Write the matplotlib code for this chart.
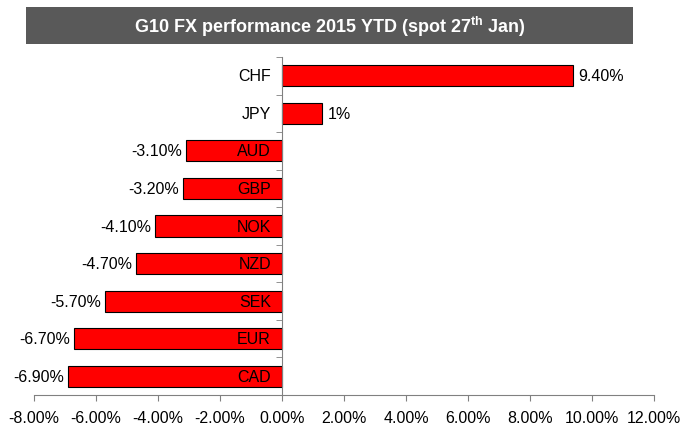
import matplotlib.pyplot as plt
from matplotlib.patches import Rectangle
import numpy as np

plt.rcParams['font.family'] = ['Liberation Sans', 'DejaVu Sans']
plt.rcParams['mathtext.fontset'] = 'custom'
plt.rcParams['mathtext.bf'] = 'Liberation Sans:bold'
plt.rcParams['mathtext.rm'] = 'Liberation Sans'

currencies = ["CHF", "JPY", "AUD", "GBP", "NOK", "NZD", "SEK", "EUR", "CAD"]
values = [9.4, 1.3, -3.1, -3.2, -4.1, -4.7, -5.7, -6.7, -6.9]
value_labels = ["9.40%", "1%", "-3.10%", "-3.20%", "-4.10%", "-4.70%", "-5.70%", "-6.70%", "-6.90%"]
xticks = [-8, -6, -4, -2, 0, 2, 4, 6, 8, 10, 12]

W, H = 686, 427
fs = 11.5
fig = plt.figure(figsize=(W / 100, H / 100), dpi=100)
ax = fig.add_axes([34 / W, 1 - 396 / H, 620 / W, 338 / H])

ypos = np.arange(len(currencies))[::-1]
ax.barh(ypos, values, height=0.56, color='#FF0000', edgecolor='black', linewidth=0.8, zorder=2)

ax.set_xlim(-8, 12)
ax.set_ylim(-0.5, len(currencies) - 0.5)
ax.set_xticks(xticks)
ax.set_xticklabels([f"{t:.2f}%" for t in xticks], fontsize=fs)
ax.tick_params(axis='x', direction='out', length=4, color='#808080', pad=7)

ax.set_yticks([])
ax.set_yticks(np.arange(-0.5, len(currencies)), minor=True)
ax.tick_params(axis='y', which='minor', direction='out', length=4, color='#808080')

for s in ['top', 'right']:
    ax.spines[s].set_visible(False)
ax.spines['left'].set_position(('data', 0))
ax.spines['left'].set_color('#808080')
ax.spines['bottom'].set_color('#808080')
ax.spines['left'].set_zorder(3)

pt = 72 / 100
for y, v, name, lab in zip(ypos, values, currencies, value_labels):
    ax.annotate(name, (0, y), xytext=(-11 * pt, 0), textcoords='offset points',
                ha='right', va='center', fontsize=fs, zorder=4)
    if v >= 0:
        ax.annotate(lab, (v, y), xytext=(5 * pt, 0), textcoords='offset points',
                    ha='left', va='center', fontsize=fs)
    else:
        ax.annotate(lab, (v, y), xytext=(-4 * pt, 0), textcoords='offset points',
                    ha='right', va='center', fontsize=fs)

# title bar
fig.patches.append(Rectangle((26 / W, 1 - 45 / H), 607 / W, 37 / H, transform=fig.transFigure,
                             facecolor='#595959', edgecolor='none'))
fig.text(330 / W, 1 - 27 / H, r"G10 FX performance 2015 YTD (spot 27$^{\mathbf{th}}$ Jan)",
         ha='center', va='center', color='white', fontsize=13, fontweight='bold')

fig.savefig('out.png', dpi=100)
